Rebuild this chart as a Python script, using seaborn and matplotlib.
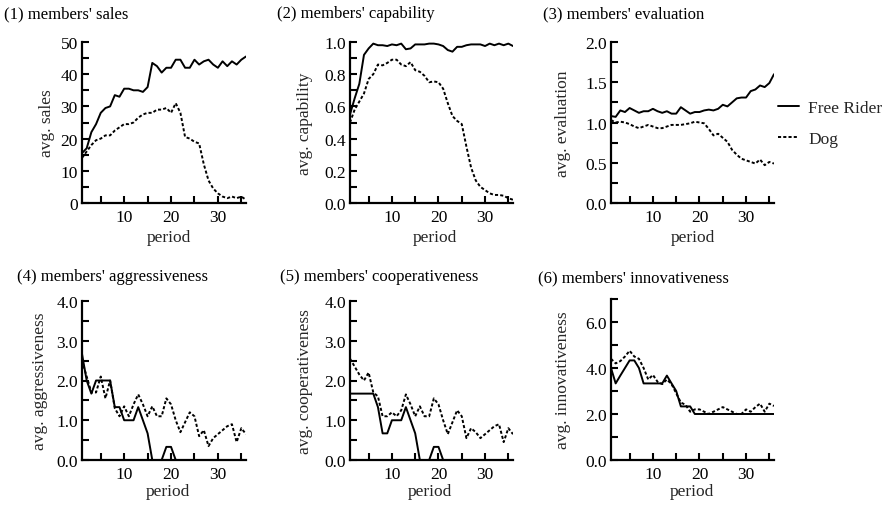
import numpy as np
import pandas as pd
import matplotlib
matplotlib.use("Agg")
import matplotlib.pyplot as plt
import seaborn as sns

periods = list(range(1, 37))

# (1) sales
sales_free = [15.5, 17, 22, 24.5, 28, 29.5, 30, 33.5, 33, 35.5, 35.5, 35, 35, 34.5, 36, 43.5,
              42.5, 40.5, 42, 42, 44.5, 44.5, 42, 42, 44.5, 43, 44, 44.5, 43, 42, 44, 42.5,
              44, 43, 44.5, 45.5]
sales_dog = [14, 16, 18, 19.5, 20, 21, 21, 22.5, 23.5, 24.5, 24.5, 25, 26.5, 27.5, 28, 28,
             29, 29, 29.5, 28, 31, 28, 20.5, 20, 19, 18.5, 12, 7, 4.5, 3, 2, 1.5,
             2, 1.5, 2, 1]

# (2) capability
cap_free = [0.55, 0.65, 0.74, 0.92, 0.96, 0.99, 0.98, 0.98, 0.975, 0.985, 0.98, 0.99,
            0.955, 0.96, 0.985, 0.985, 0.985, 0.99, 0.99, 0.985, 0.975, 0.95, 0.94, 0.97,
            0.97, 0.98, 0.985, 0.985, 0.985, 0.975, 0.99, 0.98, 0.99, 0.98, 0.99, 0.975]
cap_dog = [0.5, 0.58, 0.63, 0.68, 0.77, 0.8, 0.86, 0.855, 0.87, 0.89, 0.89, 0.86, 0.85,
           0.875, 0.825, 0.815, 0.79, 0.75, 0.755, 0.75, 0.71, 0.62, 0.54, 0.51, 0.49,
           0.35, 0.22, 0.14, 0.1, 0.08, 0.06, 0.05, 0.05, 0.045, 0.03, 0.02]

# (3) evaluation
eval_free = [1.08, 1.07, 1.15, 1.13, 1.18, 1.15, 1.12, 1.14, 1.14, 1.17, 1.14, 1.12, 1.14,
             1.11, 1.11, 1.19, 1.15, 1.11, 1.13, 1.13, 1.15, 1.16, 1.15, 1.17, 1.22, 1.2,
             1.25, 1.3, 1.31, 1.31, 1.39, 1.41, 1.46, 1.44, 1.49, 1.6]
eval_dog = [1.03, 1.0, 1.01, 1.0, 0.98, 0.95, 0.93, 0.95, 0.97, 0.95, 0.93, 0.93, 0.95,
            0.97, 0.97, 0.97, 0.98, 0.99, 1.01, 1.0, 0.99, 0.92, 0.84, 0.86, 0.81, 0.76,
            0.66, 0.6, 0.55, 0.53, 0.51, 0.49, 0.54, 0.47, 0.51, 0.49]

# (4) aggressiveness
aggr_free = [2.67, 2.0, 1.67, 2.0, 2.0, 2.0, 2.0, 1.33, 1.33, 1.0, 1.0, 1.0, 1.33, 1.0,
             0.67, 0, 0, 0, 0.33, 0.33, 0, 0, 0, 0, 0, 0, 0, 0, 0, 0, 0, 0, 0, 0, 0, 0]
aggr_dog = [2.5, 2.1, 1.7, 1.7, 2.1, 1.55, 2.0, 1.3, 1.1, 1.35, 1.1, 1.4, 1.65, 1.4, 1.1,
            1.35, 1.1, 1.1, 1.55, 1.4, 1.0, 0.7, 0.95, 1.2, 1.1, 0.6, 0.75, 0.35, 0.55,
            0.65, 0.75, 0.85, 0.9, 0.45, 0.8, 0.65]

# (5) cooperativeness
coop_free = [1.67, 1.67, 1.67, 1.67, 1.67, 1.67, 1.33, 0.67, 0.67, 1.0, 1.0, 1.0, 1.33,
             1.0, 0.67, 0, 0, 0, 0.33, 0.33, 0, 0, 0, 0, 0, 0, 0, 0, 0, 0, 0, 0, 0, 0, 0, 0]
coop_dog = [2.55, 2.35, 2.15, 2.0, 2.2, 1.7, 1.6, 1.1, 1.1, 1.2, 1.1, 1.25, 1.65, 1.4, 1.1,
            1.35, 1.1, 1.1, 1.55, 1.4, 1.0, 0.65, 0.95, 1.25, 1.1, 0.55, 0.8, 0.7, 0.55,
            0.65, 0.75, 0.85, 0.9, 0.45, 0.8, 0.65]

# (6) innovativeness
innov_free = [4.0, 3.33, 3.67, 4.0, 4.33, 4.33, 4.0, 3.33, 3.33, 3.33, 3.33, 3.33, 3.67,
              3.33, 3.0, 2.33, 2.33, 2.33, 2.0, 2.0, 2.0, 2.0, 2.0, 2.0, 2.0, 2.0, 2.0,
              2.0, 2.0, 2.0, 2.0, 2.0, 2.0, 2.0, 2.0, 2.0]
innov_dog = [4.4, 4.2, 4.3, 4.5, 4.75, 4.5, 4.4, 4.0, 3.5, 3.7, 3.4, 3.3, 3.5, 3.3, 2.9,
             2.5, 2.4, 2.1, 2.2, 2.2, 2.1, 2.0, 2.1, 2.2, 2.3, 2.2, 2.1, 2.0, 2.0, 2.2,
             2.1, 2.3, 2.45, 2.1, 2.45, 2.35]

agent_types = ["Free Rider", "Dog"]

titles = ["(1) members' sales", "(2) members' capability", "(3) members' evaluation",
          "(4) members' aggressiveness", "(5) members' cooperativeness",
          "(6) members' innovativeness"]
ylabels = ["avg. sales", "avg. capability", "avg. evaluation",
           "avg. aggressiveness", "avg. cooperativeness", "avg. innovativeness"]

series = [(sales_free, sales_dog), (cap_free, cap_dog), (eval_free, eval_dog),
          (aggr_free, aggr_dog), (coop_free, coop_dog), (innov_free, innov_dog)]

# y-axis: (max, minor step, label step, decimals)
yspecs = [(50, 5, 10, 0), (1.0, 0.1, 0.2, 1), (2.0, 0.25, 0.5, 1),
          (4.0, 0.5, 1.0, 1), (4.0, 0.5, 1.0, 1), (7.0, 1.0, 2.0, 1)]

sns.set_theme(style="ticks")
plt.rcParams["font.family"] = ["Liberation Serif", "DejaVu Serif"]
plt.rcParams["font.size"] = 12

FS_TITLE = 12
FS_LABEL = 12.5
FS_TICK = 12.5

W, H = 888, 506
fig = plt.figure(figsize=(W / 100, H / 100), dpi=100)
fig.patch.set_facecolor("white")

# layout in pixels
boxes = [(82, 43, 246, 204), (350, 43, 513, 204), (611, 43, 774, 204),
         (82, 302, 246, 461), (350, 302, 513, 461), (611, 300, 774, 461)]
title_pos = [(4, 14), (277, 14), (543, 14), (17, 277), (280, 277), (538, 278)]
xlabel_pos = [(169, 238), (435, 238), (693, 238), (168, 492), (430, 492), (692, 492)]
ylabel_x = [47, 305, 563, 40, 305, 563]

dash_map = {"Free Rider": "", "Dog": (1.6, 1.1)}

legend_handles = None
for i in range(6):
    l, t, r, b = boxes[i]
    ax = fig.add_axes([l / W, 1 - b / H, (r - l) / W, (b - t) / H])
    free, dog = series[i]
    df = pd.DataFrame({
        "period": periods * 2,
        "value": list(free) + list(dog),
        "agent": [agent_types[0]] * len(periods) + [agent_types[1]] * len(periods),
    })
    sns.lineplot(data=df, x="period", y="value", style="agent", style_order=agent_types,
                 dashes=dash_map, color="black", linewidth=1.4, ax=ax, legend=(i == 2))
    if i == 2:
        legend_handles, legend_labels = ax.get_legend_handles_labels()
        ax.get_legend().remove()

    ymax, ystep, ylab_step, dec = yspecs[i]
    yt = np.round(np.arange(0, ymax + ystep / 2, ystep), 4)
    ax.set_yticks(yt)
    ax.set_yticklabels([(f"{v:.{dec}f}" if abs(v / ylab_step - round(v / ylab_step)) < 1e-6 else "")
                        for v in yt])
    ax.set_ylim(0, ymax)
    xt = list(range(5, 40, 5))
    ax.set_xticks(xt)
    ax.set_xticklabels([str(v) if v % 10 == 0 else "" for v in xt])
    ax.set_xlim(1, 36)

    ax.set_xlabel("period", fontsize=FS_LABEL)
    ax.set_ylabel(ylabels[i], fontsize=FS_LABEL)
    # place axis labels (centres given in figure pixels)
    xlx, xly = xlabel_pos[i]
    ax.xaxis.set_label_coords((xlx - l) / (r - l), (b - xly) / (b - t))
    ax.xaxis.label.set_verticalalignment("center")
    ax.yaxis.set_label_coords((ylabel_x[i] - l) / (r - l), 0.5)
    ax.yaxis.label.set_verticalalignment("center")

    ax.tick_params(direction="in", length=5, width=1.5, labelsize=FS_TICK, colors="black")
    ax.tick_params(axis="x", pad=4)
    ax.tick_params(axis="y", pad=3)
    for s in ["top", "right"]:
        ax.spines[s].set_visible(False)
    for s in ["left", "bottom"]:
        ax.spines[s].set_linewidth(1.6)
        ax.spines[s].set_color("black")
    ax.set_facecolor("white")

    tx, ty = title_pos[i]
    fig.text(tx / W, 1 - ty / H, titles[i], fontsize=FS_TITLE, ha="left", va="center",
             color="black")

fig.legend(legend_handles, legend_labels, loc="center left",
           bbox_to_anchor=(762 / W, 1 - 124.5 / H), frameon=False, fontsize=FS_LABEL,
           handlelength=1.25, labelspacing=0.9, handletextpad=0.5)

fig.savefig("out.png", dpi=100, facecolor="white")
